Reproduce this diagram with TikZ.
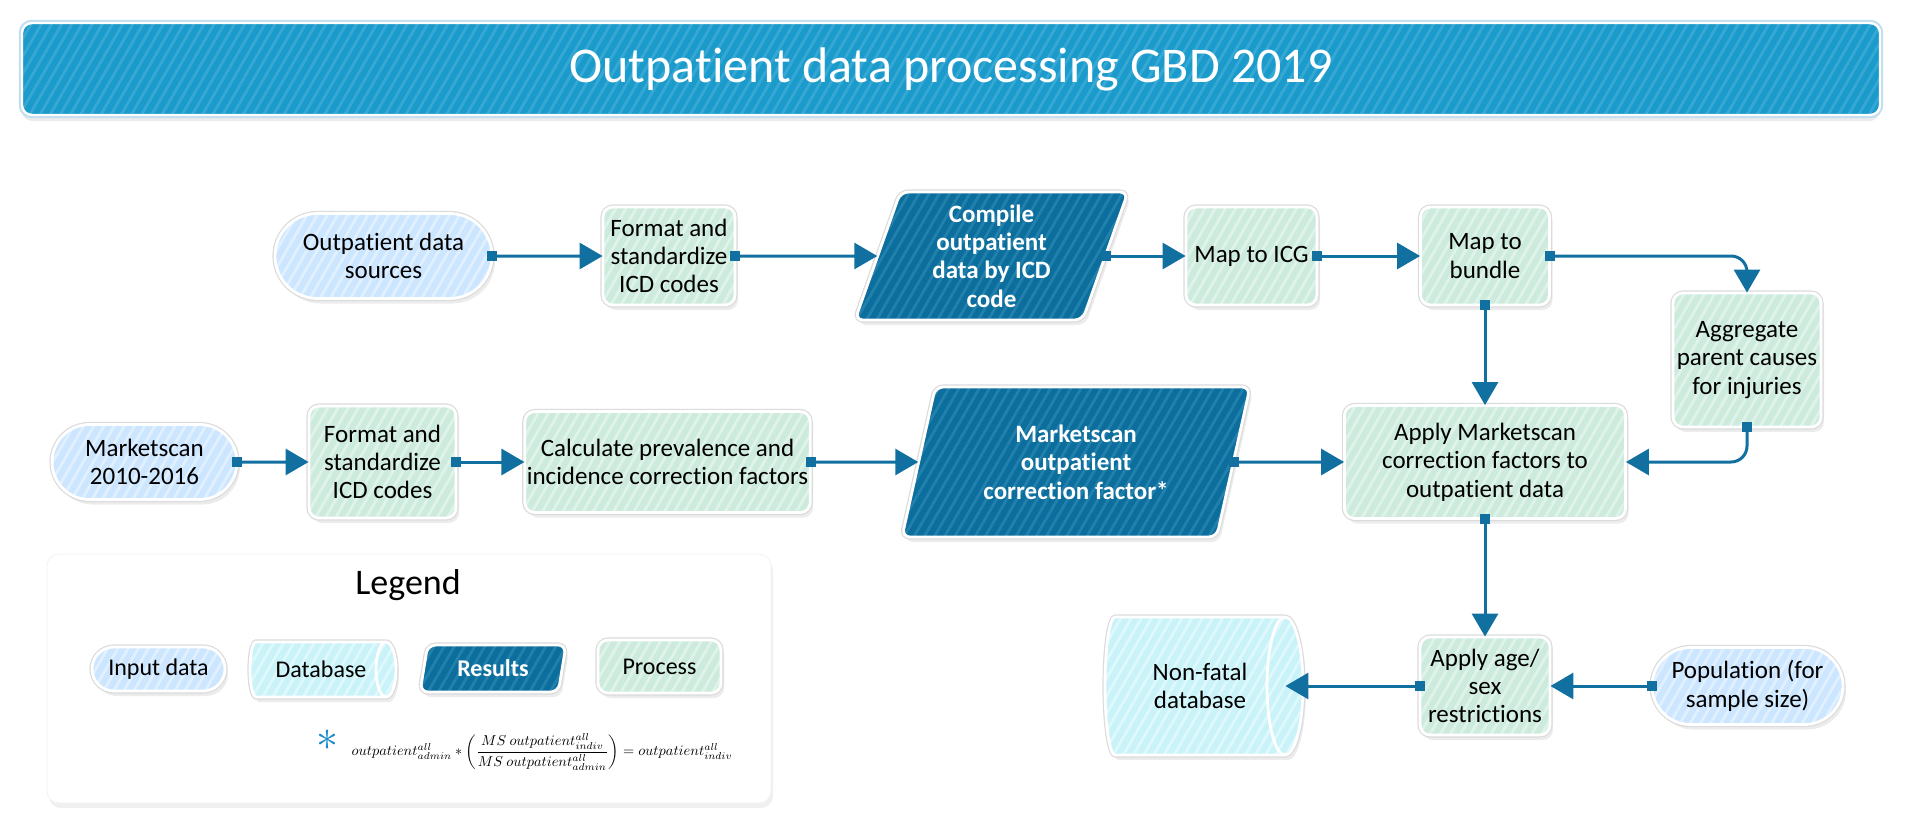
\documentclass[tikz,border=0pt]{standalone}
\usepackage{fontspec}
\setmainfont{Carlito}[RawFeature={-liga;-clig;-calt;-dlig}]
\usetikzlibrary{shapes.geometric,shapes.misc,arrows.meta,shadows,patterns.meta,calc}
\definecolor{titlefill}{HTML}{1B9BCB}
\definecolor{titlestripe}{HTML}{36A8D3}
\definecolor{titleedge}{HTML}{BFDDEF}
\definecolor{inputfill}{HTML}{CCE6FF}
\definecolor{inputstripe}{HTML}{E0F0FF}
\definecolor{dbfillc}{HTML}{CAF3F9}
\definecolor{dbstripe}{HTML}{DEF9FC}
\definecolor{resfill}{HTML}{0C6E9C}
\definecolor{resstripe}{HTML}{2280AC}
\definecolor{procfill}{HTML}{CDEBDD}
\definecolor{procstripe}{HTML}{DFF3EA}
\definecolor{arrowc}{HTML}{1170A0}
\definecolor{astc}{HTML}{1A8CC8}
\newcommand\dbshape[6]{%
 \path[dbshapestyle] (#1,#2) -- (#3,#2)
   .. controls ({#3+0.552*#5},#2) and ({#3+#5},{#2+0.224*(#4-#2)}) .. ({#3+#5},{(#2+#4)/2})
   .. controls ({#3+#5},{#4-0.224*(#4-#2)}) and ({#3+0.552*#5},#4) .. (#3,#4)
   -- (#1,#4)
   .. controls ({#1-0.552*#6},#4) and ({#1-#6},{#4-0.224*(#4-#2)}) .. ({#1-#6},{(#2+#4)/2})
   .. controls ({#1-#6},{#2+0.224*(#4-#2)}) and ({#1-0.552*#6},#2) .. (#1,#2) -- cycle;
 \draw[white, line width=1.4pt] (#3,#2)
   .. controls ({#3-0.552*#5},#2) and ({#3-#5},{#2+0.224*(#4-#2)}) .. ({#3-#5},{(#2+#4)/2})
   .. controls ({#3-#5},{#4-0.224*(#4-#2)}) and ({#3-0.552*#5},#4) .. (#3,#4);
}
\begin{document}
\begin{tikzpicture}[x=0.5pt,y=-0.5pt,
  shade box/.style={drop shadow={shadow xshift=1.5pt,shadow yshift=-2.5pt,opacity=0.15}},
  grayedge/.style={preaction={draw=black!14,line width=2.6pt}},
  stripes/.style={postaction={pattern={Lines[angle=60,distance=4.4pt,line width=1.4pt]},pattern color=#1}},
  whiteedge/.style={postaction={draw=white,line width=1.4pt}},
  txt/.style={font=\fontsize{12.5}{14.2}\selectfont, align=center, inner sep=1pt, text=black},
  inbox/.style={shape=rounded rectangle, shade box, grayedge, fill=inputfill, stripes=inputstripe, whiteedge, txt},
  procbox/.style={shape=rectangle, rounded corners=5pt, shade box, grayedge, fill=procfill, stripes=procstripe, whiteedge, txt},
  resbox/.style={shape=trapezium, trapezium left angle=67, trapezium right angle=113, trapezium stretches body, rounded corners=4pt, shade box, grayedge, fill=resfill, stripes=resstripe, whiteedge, txt, text=white, font=\fontsize{12.5}{14.2}\selectfont\bfseries},
  dbshapestyle/.style={shade box, grayedge, fill=dbfillc, stripes=dbstripe, whiteedge},
  dbtext/.style={txt, shape=rectangle},
  conn/.style={draw=arrowc, line width=1.5pt, {Square[length=5pt]}-{Triangle[length=11.5pt,width=13pt]}, shorten <=-2.5pt},
  titlebar/.style={shape=rectangle, rounded corners=5pt, drop shadow={shadow xshift=0pt,shadow yshift=-3pt,opacity=0.15}, preaction={draw=titleedge,line width=3.2pt}, fill=titlefill, stripes=titlestripe, postaction={draw=white,line width=1.2pt}, text=white, font=\fontsize{25}{28}\selectfont},
  legendbox/.style={shape=rectangle, rounded corners=6pt, fill=white, drop shadow={shadow xshift=1pt,shadow yshift=-2.5pt,opacity=0.12}, draw=black!5, line width=0.4pt}
]
\useasboundingbox (0,0) rectangle (1920,835);

% title
\node[titlebar, minimum width=929pt, minimum height=46pt] (title) at (951,69) {Outpatient data processing GBD 2019};

% legend box
\node[legendbox, minimum width=362pt, minimum height=124.5pt] (legend) at (409,678.5) {};
\node[txt, font=\fontsize{18}{20}\selectfont] (legtitle) at (408,585) {Legend};
\node[inbox, minimum width=68.5pt, minimum height=22pt, font=\fontsize{12}{14}\selectfont] (lin) at (158.5,669) {Input data};
\dbshape{256}{642}{386}{697}{10}{6}
\node[dbtext, minimum width=65pt, minimum height=27.5pt, font=\fontsize{12}{14}\selectfont] (ldb) at (321,669.5) {Database};
\node[resbox, trapezium left angle=70, trapezium right angle=110, minimum width=73pt, minimum height=23.5pt, font=\fontsize{12}{14}\selectfont\bfseries] (lres) at (493,668.5) {Results};
\node[procbox, minimum width=61.5pt, minimum height=26.5pt, font=\fontsize{12}{14}\selectfont] (lproc) at (659.5,666.5) {Process};
\node[text=astc, inner sep=0pt] (star) at (327,740) {\scalebox{2.2}{$\ast$}};
\node[inner sep=0pt] (formula) at (542,752) {\scalebox{0.72}{$outpatient^{all}_{admin} * \left(\displaystyle\frac{MS\ outpatient^{all}_{indiv}}{MS\ outpatient^{all}_{admin}}\right) = outpatient^{all}_{indiv}$}};

% row 1
\node[inbox, minimum width=110.5pt, minimum height=42.5pt] (in1) at (383.5,256) {Outpatient data\\sources};
\node[procbox, minimum width=66pt, minimum height=49pt] (p1) at (669,256) {Format and\\standardize\\ICD codes};
\node[resbox, minimum width=136.5pt, minimum height=64pt] (r1) at (991.5,256) {Compile\\outpatient\\data by ICD\\code};
\node[procbox, minimum width=65.5pt, minimum height=49pt] (p2) at (1251.5,256) {Map to ICG};
\node[procbox, minimum width=64.5pt, minimum height=49pt] (p3) at (1485,256) {Map to\\bundle};
\node[procbox, minimum width=74pt, minimum height=67pt] (p4) at (1747,360) {Aggregate\\parent causes\\for injuries};

% row 2
\node[inbox, minimum width=94.5pt, minimum height=37.5pt] (in2) at (144.5,462) {Marketscan\\2010-2016};
\node[procbox, minimum width=73.5pt, minimum height=56pt] (p5) at (382.5,462) {Format and\\standardize\\ICD codes};
\node[procbox, minimum width=139.5pt, minimum height=50.5pt] (p6) at (667.5,462) {Calculate prevalence and\\incidence correction factors};
\node[resbox, minimum width=174pt, minimum height=75pt] (r2) at (1076,462) {Marketscan\\outpatient\\correction factor*};
\node[procbox, minimum width=140.5pt, minimum height=56.5pt] (p7) at (1485,462) {Apply Marketscan\\correction factors to\\outpatient data};

% row 3
\dbshape{1115}{617}{1285}{755}{18}{10}
\node[dbtext, minimum width=85pt, minimum height=69pt] (db) at (1200,686) {Non-fatal\\database};
\node[procbox, minimum width=65pt, minimum height=49pt] (p8) at (1485,686) {Apply age/\\sex\\restrictions};
\node[inbox, minimum width=97.5pt, minimum height=38.5pt] (in3) at (1747.5,686) {Population (for\\sample size)};

% connectors
\draw[conn] (in1) -- (p1);
\draw[conn] (p1) -- (r1);
\draw[conn] (r1) -- (p2);
\draw[conn] (p2) -- (p3);
\draw[conn, rounded corners=8pt] (p3.east) -| (p4.north);
\draw[conn] (p3) -- (p7);
\draw[conn, rounded corners=8pt] (p4.south) |- (p7.east);
\draw[conn] (in2) -- (p5);
\draw[conn] (p5) -- (p6);
\draw[conn] (p6) -- (r2);
\draw[conn] (r2) -- (p7);
\draw[conn] (p7) -- (p8);
\draw[conn] (in3) -- (p8);
\draw[conn] (p8) -- (db);
\end{tikzpicture}
\end{document}
